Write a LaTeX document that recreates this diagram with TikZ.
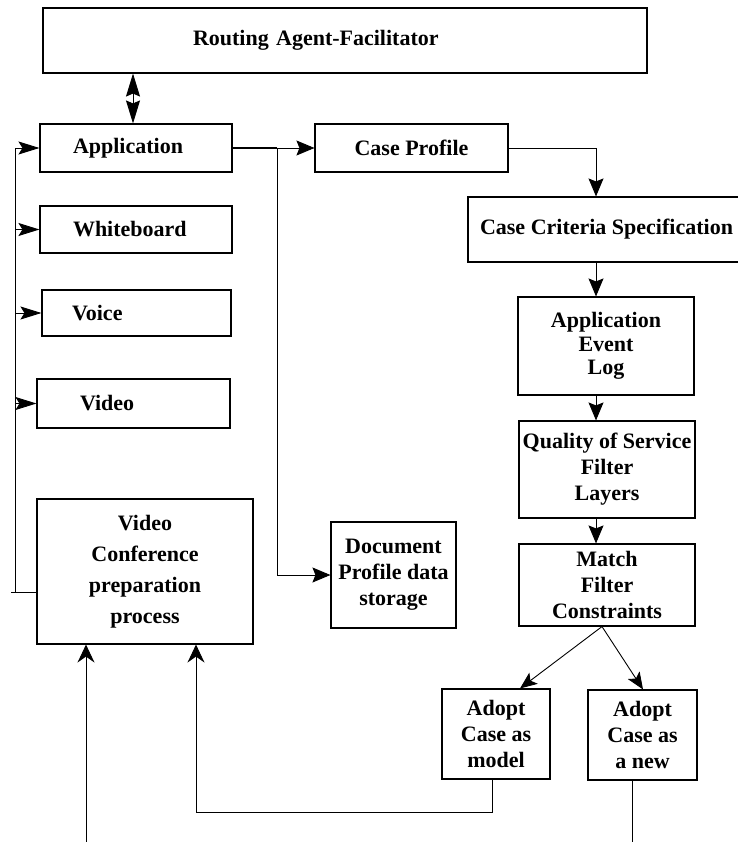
\documentclass[tikz,border=0pt]{standalone}
\usepackage{fontspec}
\setmainfont{Liberation Serif}
\usetikzlibrary{arrows.meta}

\tikzset{
	blk/.style={draw, line width=1.1pt, inner sep=0pt, align=center,
		font=\bfseries\fontsize{22}{26}\selectfont},
	port/.style={blk, align=left},
	wire/.style={line width=0.9pt},
	uptip/.style={>={Stealth[length=18pt,width=17pt,inset=6pt]}},
	smalltip/.style={>={Stealth[length=17pt,width=14pt,inset=4pt]}},
	bustip/.style={>={Stealth[length=21pt,width=13pt,inset=4pt]}},
	dbltip/.style={>={Stealth[length=23pt,width=14pt,inset=3pt]}}
}

\begin{document}
\begin{tikzpicture}[x=1pt, y=-1pt,
	>={Stealth[length=18pt,width=15pt,inset=3pt]}]
\useasboundingbox (0,0) rectangle (737,842);

% left column
\node[port, minimum height=65pt, inner xsep=150pt, text width=304pt] (route)
	at (345,40.5) {Routing Agent-Facilitator};
\node[port, minimum height=48pt, inner xsep=33pt, text width=126pt] (app)
	at (136,148) {Application};
\node[port, minimum height=47pt, inner xsep=33pt, text width=126pt] (wb)
	at (136,229.5) {Whiteboard};
\node[port, minimum height=46pt, inner xsep=30pt, text width=129pt] (voice)
	at (136.5,313) {Voice};
\node[port, minimum height=49pt, inner xsep=43pt, text width=107pt] (vid)
	at (133.5,403.5) {Video};
\node[blk, minimum width=216pt, minimum height=145pt,
	font=\bfseries\fontsize{22}{31}\selectfont] (conf)
	at (145,571.5) {Video\\Conference\\preparation\\process};
\node[blk, minimum width=125pt, minimum height=106pt] (doc)
	at (393.5,575) {Document\\Profile data\\storage};

% right column
\node[blk, minimum width=193pt, minimum height=48pt] (cprof)
	at (411.5,148) {Case Profile};
\node[blk, minimum width=277pt, minimum height=65pt] (crit)
	at (606.5,229.5) {Case Criteria Specification};
\node[blk, minimum width=176pt, minimum height=98pt,
	font=\bfseries\fontsize{22}{23.5}\selectfont] (log)
	at (606,346) {Application\\Event\\Log};
\node[blk, minimum width=176pt, minimum height=97pt] (qos)
	at (607,469.5) {Quality of Service\\Filter\\Layers};
\node[blk, minimum width=176pt, minimum height=82pt] (match)
	at (607,585) {Match\\Filter\\Constraints};
\node[blk, minimum width=108pt, minimum height=90pt] (mdl)
	at (496,734) {Adopt\\Case as\\model};
\node[blk, minimum width=109pt, minimum height=90pt] (new)
	at (642.5,735) {Adopt\\Case as\\a new};

\draw[wire, <->, dbltip] ([xshift=-3pt]app.north)
	-- ([xshift=-3pt]app.north |- route.south);

\coordinate (jn) at (277,148);
\draw[line width=1.8pt] (app.east) -- (jn);
\draw[wire, ->] (jn) -- (cprof.west);
\draw[wire, ->] (jn) |- (doc.west);

\coordinate (col) at (596,148);
\draw[wire, ->] (cprof.east) -| (col |- crit.north);
\draw[wire, ->] (col |- crit.south) -- (col |- log.north);
\draw[wire, ->] (col |- log.south) -- (col |- qos.north);
\draw[wire, ->] (col |- qos.south) -- (col |- match.north);

\draw[wire, ->, smalltip] ([xshift=-5pt]match.south) -- ([xshift=24pt]mdl.north);
\draw[wire, ->, smalltip] ([xshift=-5pt]match.south) -- ([xshift=0.5pt]new.north);

\draw[wire, ->, uptip] ([xshift=-4pt]mdl.south) -- ++(0,33)
	-| ([xshift=51pt]conf.south);
\coordinate (feed) at (86,842);
\draw[wire, ->, uptip] (feed) -- (feed |- conf.south);
\coordinate (out) at (632,842);
\draw[wire] (out |- new.south) -- (out);

% feedback bus
\coordinate (bus) at (15,592);
\draw[wire] (conf.west |- bus) -- ++(-25,0);
\draw[wire] (bus) -- (bus |- app.west);
\foreach \n in {app,wb,voice,vid}
	\draw[wire, ->, bustip] (bus |- \n.west) -- (\n.west);
\end{tikzpicture}
\end{document}
